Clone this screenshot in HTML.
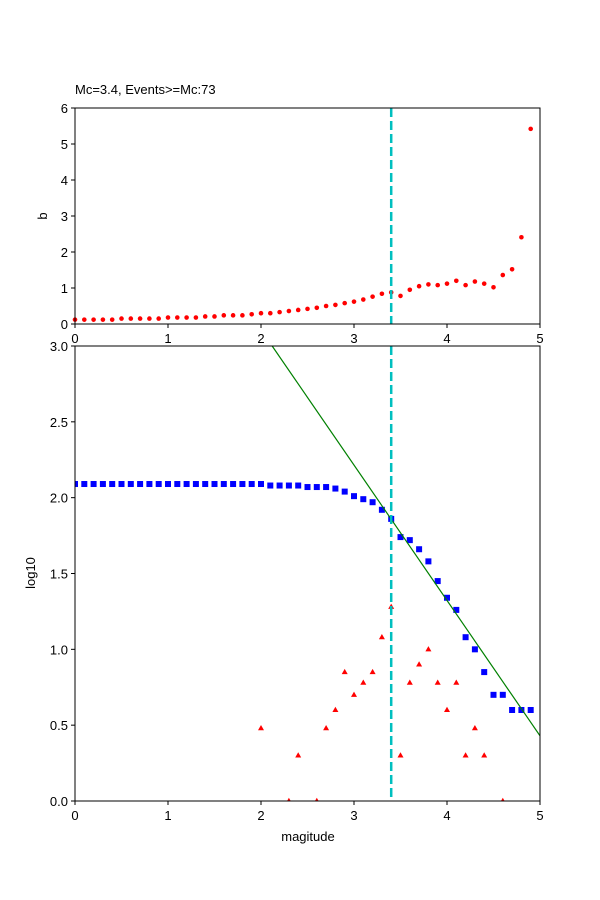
<!DOCTYPE html>
<html><head><meta charset="utf-8"><style>body{margin:0;background:#fff}svg{display:block}text{font-family:"Liberation Sans","DejaVu Sans",sans-serif;font-size:13px;fill:#000}</style></head>
<body>
<svg id="s" width="600" height="900" xmlns="http://www.w3.org/2000/svg">
<defs><clipPath id="c"><rect x="75" y="346" width="465" height="455"/></clipPath></defs>
<rect width="600" height="900" fill="#fff"/>
<g id="gtop"></g><g id="gbot"></g>
<text x="75" y="94">Mc=3.4, Events&gt;=Mc:73</text>
<text x="308" y="841" text-anchor="middle">magitude</text>
<text transform="translate(47,216) rotate(-90)" text-anchor="middle">b</text>
<text transform="translate(35,573) rotate(-90)" text-anchor="middle">log10</text>
</svg>
<script>
(function(){
const NS="http://www.w3.org/2000/svg";
function el(p,t,a,txt){const e=document.createElementNS(NS,t);for(const k in a)e.setAttribute(k,a[k]);if(txt!==undefined)e.textContent=txt;p.appendChild(e);return e;}
const gTop=document.getElementById('gtop'),gBot=document.getElementById('gbot');
const X=m=>75+93*m;
const Yt=v=>324-36*v, Yb=v=>801-151.67*v;
const b=[0.12,0.12,0.12,0.12,0.12,0.15,0.15,0.15,0.15,0.15,0.18,0.18,0.18,0.18,0.21,0.21,0.24,0.24,0.24,0.27,0.3,0.3,0.33,0.36,0.39,0.42,0.45,0.5,0.53,0.58,0.62,0.68,0.76,0.84,0.88,0.78,0.95,1.05,1.1,1.08,1.12,1.2,1.08,1.18,1.12,1.02,1.36,1.52,2.41,5.42];
b.forEach((v,i)=>el(gTop,'circle',{cx:X(i/10),cy:Yt(v),r:2.3,fill:'#f00'}));
el(gTop,'line',{x1:X(3.4),x2:X(3.4),y1:108,y2:324,stroke:'#00bfbf','stroke-width':2.5,'stroke-dasharray':'9,4'});
el(gTop,'rect',{x:75,y:108,width:465,height:216,fill:'none',stroke:'#000','stroke-width':1});
for(let i=0;i<=6;i++){el(gTop,'line',{x1:71,x2:75,y1:Yt(i),y2:Yt(i),stroke:'#000'});el(gTop,'text',{x:68,y:Yt(i)+5,'text-anchor':'end'},i);}
for(let i=0;i<=5;i++){el(gTop,'line',{x1:X(i),x2:X(i),y1:324,y2:328,stroke:'#000'});el(gTop,'text',{x:X(i),y:343,'text-anchor':'middle'},i);}
const cum=[];for(let i=0;i<20;i++)cum.push(2.09);
cum.push(2.09,2.08,2.08,2.08,2.08,2.07,2.07,2.07,2.06,2.04,2.01,1.99,1.97,1.92,1.86,1.74,1.72,1.66,1.58,1.45,1.34,1.26,1.08,1.0,0.85,0.70,0.70,0.60,0.60,0.60);
const tri={"2.0":0.48,"2.3":0,"2.4":0.30,"2.6":0,"2.7":0.48,"2.8":0.6,"2.9":0.85,"3.0":0.70,"3.1":0.78,"3.2":0.85,"3.3":1.08,"3.4":1.28,"3.5":0.30,"3.6":0.78,"3.7":0.90,"3.8":1.0,"3.9":0.78,"4.0":0.60,"4.1":0.78,"4.2":0.30,"4.3":0.48,"4.4":0.30,"4.6":0};
const g=el(gBot,'g',{'clip-path':'url(#c)'});
for(const k in tri){const x=X(+k),y=Yb(tri[k]);el(g,'polygon',{points:`${x},${y-3.2} ${x-3},${y+2} ${x+3},${y+2}`,fill:'#f00'});}
cum.forEach((v,i)=>el(g,'rect',{x:X(i/10)-3,y:Yb(v)-3,width:6,height:6,fill:'#00f'}));
el(g,'line',{x1:X(2.12),y1:Yb(3.0),x2:X(5),y2:Yb(0.43),stroke:'#008000','stroke-width':1.2});
el(g,'line',{x1:X(3.4),x2:X(3.4),y1:346,y2:801,stroke:'#00bfbf','stroke-width':2.5,'stroke-dasharray':'9,4'});
el(gBot,'rect',{x:75,y:346,width:465,height:455,fill:'none',stroke:'#000','stroke-width':1});
for(let i=0;i<=6;i++){const v=i*0.5;el(gBot,'line',{x1:71,x2:75,y1:Yb(v),y2:Yb(v),stroke:'#000'});el(gBot,'text',{x:68,y:Yb(v)+5,'text-anchor':'end'},v.toFixed(1));}
for(let i=0;i<=5;i++){el(gBot,'line',{x1:X(i),x2:X(i),y1:801,y2:805,stroke:'#000'});el(gBot,'text',{x:X(i),y:820,'text-anchor':'middle'},i);}
})();
</script>
</body></html>
